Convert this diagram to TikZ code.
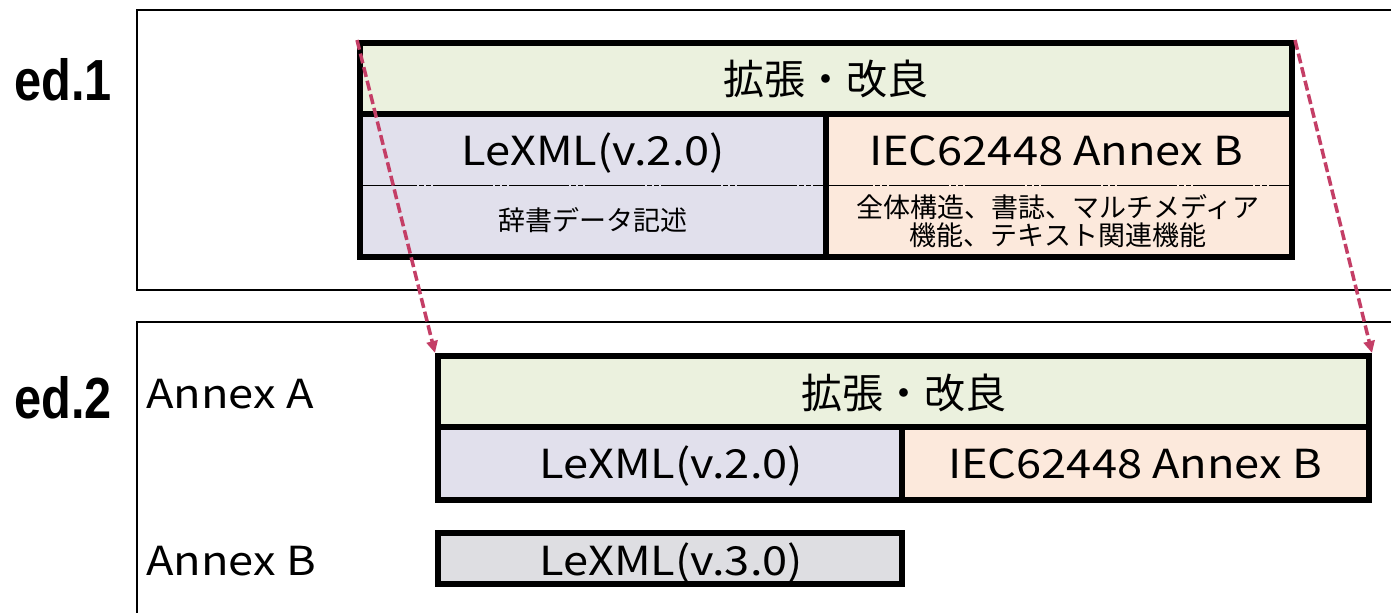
\documentclass[tikz,border=0pt]{standalone}
\usepackage{fontspec}
\setmainfont{Noto Sans CJK JP}
\newfontfamily\edfont{Liberation Sans}[BoldFont={Liberation Sans Bold}]
\usetikzlibrary{arrows.meta}
\definecolor{hdrgreen}{RGB}{235,241,222}
\definecolor{lavcell}{RGB}{225,224,236}
\definecolor{peachcell}{RGB}{252,233,220}
\definecolor{graycell}{RGB}{222,222,226}
\definecolor{arrowpink}{RGB}{196,62,102}
\newcommand{\wdx}[1]{\scalebox{1.13}[1]{#1}}
\tikzset{
  cell/.style={draw=black, line width=6pt, inner sep=0pt, rectangle},
  frameline/.style={draw=black, line width=1.3pt},
  bigjp/.style={font=\fontsize{41}{44}\selectfont, inner sep=0pt},
  latin/.style={font=\fontsize{40}{44}\selectfont, inner sep=0pt, anchor=base},
  smalljp/.style={font=\fontsize{27}{30}\selectfont, inner sep=0pt, align=center},
  edlabel/.style={font=\edfont\bfseries\fontsize{58}{60}\selectfont, inner sep=0pt, anchor=base west},
  annexlabel/.style={font=\fontsize{40}{44}\selectfont, inner sep=0pt, anchor=base west},
  movearrow/.style={draw=arrowpink, line width=3.5pt, dash pattern=on 10pt off 4pt, -{Triangle[length=12pt,width=11pt]}},
  sepline/.style={draw=black, line width=1pt, dash pattern=on 60pt off 2pt on 5pt off 2pt on 5pt off 2pt}
}
\begin{document}
\begin{tikzpicture}[x=1pt,y=-1pt]
\useasboundingbox (0,0) rectangle (1391,613);
\fill[white] (0,0) rectangle (1391,613);
% frames
\draw[frameline] (1391,10) -- (137,10) -- (137,290) -- (1391,290);
\draw[frameline] (1391,322) -- (137,322) -- (137,613);
% labels
\node[edlabel] (ed1) at (14,100) {\scalebox{0.84}[1]{ed.1}};
\node[edlabel] (ed2) at (14,418) {\scalebox{0.84}[1]{ed.2}};
\node[annexlabel] (annexA) at (146,408) {\wdx{Annex A}};
\node[annexlabel] (annexB) at (146,575) {\wdx{Annex B}};
% ed.1 block
\node[cell, fill=hdrgreen, minimum width=932pt, minimum height=71pt] (h1) at (826,78.5) {};
\node[cell, fill=lavcell, minimum width=466pt, minimum height=143pt] (l1) at (593,185.5) {};
\node[cell, fill=peachcell, minimum width=466pt, minimum height=143pt] (r1) at (1059,185.5) {};
\draw[sepline] (l1.west) -- (r1.east);
\node[bigjp] (h1t) at (826,78.5) {拡張・改良};
\node[latin] (l1t) at (593,165) {\wdx{LeXML(v.2.0)}};
\node[latin] (r1t) at (1056,165) {\wdx{IEC62448 Annex B}};
\node[smalljp] (l1s) at (593,220) {辞書データ記述};
\node[smalljp] (r1s) at (1058,221) {全体構造、書誌、マルチメディア\\[-2pt]機能、テキスト関連機能};
% ed.2 block
\node[cell, fill=hdrgreen, minimum width=931pt, minimum height=71pt] (h2) at (903.5,391.5) {};
\node[cell, fill=lavcell, minimum width=464pt, minimum height=73pt] (l2) at (670,463.5) {};
\node[cell, fill=peachcell, minimum width=467pt, minimum height=73pt] (r2) at (1135.5,463.5) {};
\node[bigjp] (h2t) at (903.5,393) {拡張・改良};
\node[latin] (l2t) at (671,478) {\wdx{LeXML(v.2.0)}};
\node[latin] (r2t) at (1135,478) {\wdx{IEC62448 Annex B}};
\node[cell, fill=graycell, minimum width=464pt, minimum height=51pt] (b2) at (670,558.5) {};
\node[latin] (b2t) at (671,575) {\wdx{LeXML(v.3.0)}};
% arrows
\draw[movearrow] (h1.north west) -- (h2.north west);
\draw[movearrow] (h1.north east) -- (h2.north east);
\end{tikzpicture}
\end{document}
